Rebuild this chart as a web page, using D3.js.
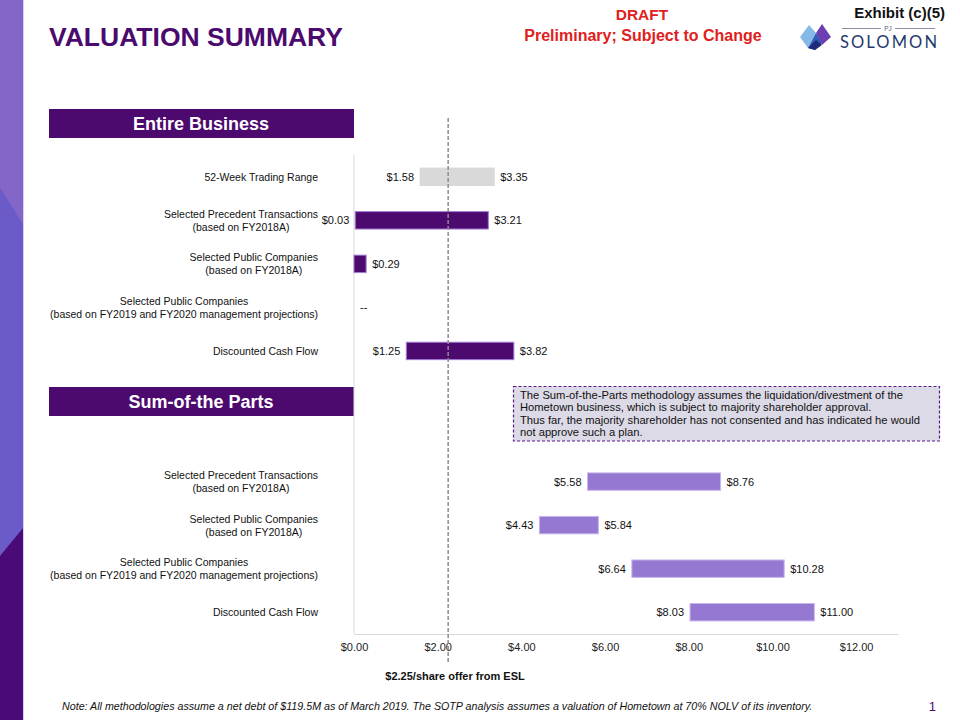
<!DOCTYPE html>
<html><head><meta charset="utf-8">
<script src="https://cdn.jsdelivr.net/npm/d3@7"></script>
<style>
html,body{margin:0;padding:0;background:#fff;}
svg{display:block;font-family:"Liberation Sans",Arial,sans-serif;}
</style></head>
<body>
<script>
// ---------- data ----------
const categories = [
  "52-Week Trading Range",
  "Selected Precedent Transactions\n(based on FY2018A)",
  "Selected Public Companies\n(based on FY2018A)",
  "Selected Public Companies\n(based on FY2019 and FY2020 management projections)",
  "Discounted Cash Flow",
  "",
  "",
  "Selected Precedent Transactions\n(based on FY2018A)",
  "Selected Public Companies\n(based on FY2018A)",
  "Selected Public Companies\n(based on FY2019 and FY2020 management projections)",
  "Discounted Cash Flow"
];
const lowValues  = [1.58, 0.03, null, null, 1.25, null, null, 5.58, 4.43, 6.64, 8.03];
const highValues = [3.35, 3.21, 0.29, null, 3.82, null, null, 8.76, 5.84, 10.28, 11.00];
const seriesGroup = ["trading","entire","entire","entire","entire","gap","gap","sotp","sotp","sotp","sotp"];
const noValueLabel = "--";
const tickValues = [0, 2, 4, 6, 8, 10, 12];
const offerPrice = 2.25;
const offerLabel = "$2.25/share offer from ESL";

const W = 960, H = 720;
const svg = d3.select("body").append("svg").attr("width", W).attr("height", H);

// ---------- side strip ----------
svg.append("rect").attr("x",0).attr("y",0).attr("width",23).attr("height",H).attr("fill","#6a5bc8");
svg.append("polygon").attr("points","0,0 23,0 23,224 0,188").attr("fill","#8366c8");
svg.append("polygon").attr("points","0,556 23,528 23,720 0,720").attr("fill","#4a0a78");
svg.append("line").attr("x1",23.5).attr("x2",23.5).attr("y1",0).attr("y2",H).attr("stroke","#d9cdf0").attr("stroke-width",1);

// ---------- header texts ----------
svg.append("text").attr("x",49).attr("y",46).attr("font-size",26.5).attr("font-weight","bold")
  .attr("fill","#4b0a6e").text("VALUATION SUMMARY");
svg.append("text").attr("x",642).attr("y",20).attr("text-anchor","middle").attr("font-size",15.5)
  .attr("font-weight","bold").attr("fill","#e0201c").text("DRAFT");
svg.append("text").attr("x",643).attr("y",41).attr("text-anchor","middle").attr("font-size",16)
  .attr("font-weight","bold").attr("fill","#e0201c").text("Preliminary; Subject to Change");
svg.append("text").attr("x",945).attr("y",18).attr("text-anchor","end").attr("font-size",15)
  .attr("font-weight","bold").attr("fill","#111").text("Exhibit (c)(5)");

// logo
const logo = svg.append("g");
logo.append("polygon").attr("points","800,37 809,25 816,33 808,48").attr("fill","#86b9e8");
logo.append("polygon").attr("points","808,48 816,33 822,43 815,50").attr("fill","#2e5fb5");
logo.append("polygon").attr("points","816,33 822,24 831,37 822,45").attr("fill","#6b3fb2");
logo.append("polygon").attr("points","808,48 815,50 822,45 816,40").attr("fill","#1f2a78");
logo.append("line").attr("x1",842).attr("x2",881).attr("y1",28.5).attr("y2",28.5).attr("stroke","#8a8fa8");
logo.append("line").attr("x1",895).attr("x2",935).attr("y1",28.5).attr("y2",28.5).attr("stroke","#8a8fa8");
logo.append("text").attr("x",888).attr("y",30.5).attr("text-anchor","middle").attr("font-size",6.5).attr("fill","#5a6080").text("PJ");
logo.append("text").attr("x",840).attr("y",48).attr("font-size",16.5).attr("fill","#1f3a6e")
  .attr("font-family","Lato, 'Open Sans', sans-serif").attr("textLength",97).attr("lengthAdjust","spacing").text("SOLOMON");

// ---------- scales ----------
const x = d3.scaleLinear().domain([0, 13]).range([354, 898]);
const y = d3.scaleBand().domain(d3.range(categories.length)).range([155, 634]).paddingInner(0.6).paddingOuter(0.3);

const colors = {trading:"#d9d9d9", entire:"#4d0a6e", sotp:"#9478d2"};
const strokes = {trading:"#d9d9d9", entire:"#a07ad6", sotp:"#c8b6ec"};

// section header boxes
function sectionBox(y0, label){
  svg.append("rect").attr("x",49).attr("y",y0).attr("width",305).attr("height",29).attr("fill","#4d0a6e");
  svg.append("text").attr("x",201).attr("y",y0+21).attr("text-anchor","middle").attr("font-size",18)
    .attr("font-weight","bold").attr("fill","#fff").text(label);
}
sectionBox(109, "Entire Business");
sectionBox(387, "Sum-of-the Parts");

// axes lines
svg.append("line").attr("x1",x(0)).attr("x2",x(0)).attr("y1",155).attr("y2",634).attr("stroke","#d9d9d9");
const xAxis = d3.axisBottom(x).tickValues(tickValues).tickSize(0).tickPadding(9)
  .tickFormat(d => "$" + d3.format(".2f")(d));
const gx = svg.append("g").attr("transform","translate(0,634)").call(xAxis);
gx.select(".domain").attr("stroke","#d9d9d9");
gx.selectAll("text").attr("font-size",11).attr("fill","#222").attr("font-family","'Liberation Sans',Arial,sans-serif");

// category labels (centred blocks, right aligned at 318)
const labelRight = 318;
categories.forEach((c, i) => {
  if (!c) return;
  const lines = c.split("\n");
  const cy = y(i) + y.bandwidth()/2;
  const t = svg.append("text").attr("font-size",10.5).attr("fill","#111").attr("text-anchor","middle");
  lines.forEach((ln, k) => {
    t.append("tspan").attr("x",0).attr("y", cy + 4 + (k - (lines.length-1)/2) * 13).text(ln);
  });
  let maxW = 0;
  t.selectAll("tspan").each(function(){ maxW = Math.max(maxW, this.getComputedTextLength()); });
  t.selectAll("tspan").attr("x", labelRight - maxW/2);
});

// bars
const rows = d3.range(categories.length).filter(i => highValues[i] != null);
svg.append("g").selectAll("rect").data(rows).join("rect")
  .attr("x", i => x(lowValues[i] ?? 0))
  .attr("y", i => y(i))
  .attr("width", i => x(highValues[i]) - x(lowValues[i] ?? 0))
  .attr("height", y.bandwidth())
  .attr("fill", i => colors[seriesGroup[i]])
  .attr("stroke", i => strokes[seriesGroup[i]])
  .attr("stroke-width", 1);

const fmt = v => "$" + d3.format(".2f")(v);
svg.append("g").selectAll("text.lo").data(rows.filter(i => lowValues[i] != null)).join("text")
  .attr("x", i => x(lowValues[i]) - 6).attr("y", i => y(i) + y.bandwidth()/2 + 4)
  .attr("text-anchor","end").attr("font-size",11).attr("fill","#111").text(i => fmt(lowValues[i]));
svg.append("g").selectAll("text.hi").data(rows).join("text")
  .attr("x", i => x(highValues[i]) + 6).attr("y", i => y(i) + y.bandwidth()/2 + 4)
  .attr("font-size",11).attr("fill","#111").text(i => fmt(highValues[i]));

// no-value row
d3.range(categories.length).filter(i => categories[i] && highValues[i] == null).forEach(i => {
  svg.append("text").attr("x", x(0) + 6).attr("y", y(i) + y.bandwidth()/2 + 4)
    .attr("font-size",11).attr("fill","#111").text(noValueLabel);
});

// offer line
svg.append("line").attr("x1",x(offerPrice)).attr("x2",x(offerPrice)).attr("y1",118).attr("y2",664)
  .attr("stroke","#8c8c8c").attr("stroke-width",1.5).attr("stroke-dasharray","4,2");
svg.append("text").attr("x",455).attr("y",680).attr("text-anchor","middle").attr("font-size",11)
  .attr("font-weight","bold").attr("fill","#111").text(offerLabel);

// note box
svg.append("rect").attr("x",513.5).attr("y",386.5).attr("width",426).attr("height",54.5)
  .attr("fill","#dcdae6").attr("stroke","#5a1a8a").attr("stroke-width",1.2).attr("stroke-dasharray","3,2");
const noteLines = [
  "The Sum-of-the-Parts methodology assumes the liquidation/divestment of the",
  "Hometown business, which is subject to majority shareholder approval.",
  "Thus far, the majority shareholder has not consented and has indicated he would",
  "not approve such a plan."
];
noteLines.forEach((ln, k) => {
  svg.append("text").attr("x",520).attr("y",398.5 + k*12.5).attr("font-size",11.2).attr("fill","#111").text(ln);
});

// footnote
svg.append("text").attr("x",62).attr("y",710).attr("font-size",10.7).attr("font-style","italic").attr("fill","#111")
  .text("Note: All methodologies assume a net debt of $119.5M as of March 2019. The SOTP analysis assumes a valuation of Hometown at 70% NOLV of its inventory.");
svg.append("text").attr("x",936).attr("y",711).attr("text-anchor","end").attr("font-size",13).attr("fill","#4b0a6e").text("1");
</script>
</body></html>
